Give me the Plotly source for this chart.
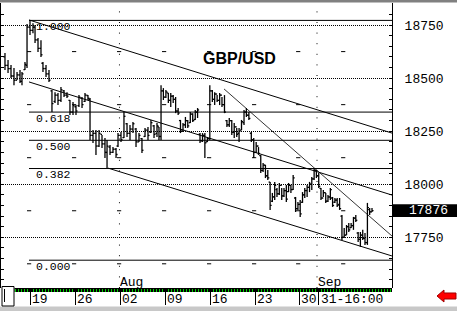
import plotly.graph_objects as go

# ---------------- data ----------------
# bar time, in trading days from Mon 19 Jul
BAR_T = [-2.78,-2.44,-2.11,-1.78,-1.44,-1.11,-0.89,-0.56,-0.33,0.00,0.33,0.56,0.89,1.22,1.44,1.78,2.11,2.44,2.78,3.11,
         3.44,3.78,4.11,4.44,4.78,5.11,5.44,5.78,6.11,6.44,6.67,7.00,7.33,7.67,8.00,8.33,8.56,8.89,9.22,9.56,
         9.78,10.11,10.44,10.78,11.11,11.44,11.78,12.11,12.44,12.78,13.11,13.44,13.78,14.11,14.33,14.56,14.82,15.10,15.37,15.64,
         15.91,16.18,16.46,16.72,17.00,17.27,17.53,17.81,18.08,18.36,18.62,18.89,19.17,19.43,19.71,19.98,20.26,20.52,20.79,21.07,
         21.33,21.61,21.88,22.14,22.42,22.69,22.97,23.23,23.50,23.78,24.04,24.32,24.59,24.86,25.13,25.39,25.64,25.90,26.16,26.42,
         26.68,26.93,27.19,27.44,27.70,27.97,28.22,28.48,28.73,28.99,29.24,29.51,29.77,30.02,30.28,30.53,30.79,31.06,31.31,31.57,
         31.82,32.08,32.33,32.59,32.86,33.11,33.37,33.62,33.88,34.13,34.40,34.66,34.91,35.17,35.42,35.68,35.94,36.20,36.46,36.71,
         36.97,37.22,37.49,37.74,38.00]
OPEN = [18600,18560,18545,18510,18490,18515,18485,18540,18560,18740,18725,18740,18680,18640,18570,18545,18520,18440,18390,18420,
        18395,18440,18420,18395,18340,18365,18370,18405,18390,18418,18400,18230,18240,18180,18235,18190,18150,18175,18150,18165,
        18180,18230,18220,18285,18240,18260,18260,18200,18215,18225,18255,18245,18275,18240,18270,18225,18440,18410,18430,18395,
        18415,18400,18345,18300,18250,18280,18300,18290,18330,18305,18340,18235,18205,18230,18200,18215,18440,18400,18425,18395,
        18420,18375,18300,18280,18300,18245,18270,18240,18255,18290,18340,18325,18240,18210,18150,18180,18135,18065,18090,18040,
        18010,17920,17940,17975,17955,17995,17945,17970,17965,17995,17975,17935,17885,17905,17915,17950,17970,17985,18000,18025,
        18065,18040,17980,17935,17960,17920,17940,17935,17915,17925,17905,17850,17750,17760,17800,17795,17805,17840,17770,17740,
        17760,17745,17725,17880,17870]
HIGH = [18618,18585,18562,18548,18529,18538,18529,18576,18755,18772,18759,18750,18689,18679,18576,18562,18538,18444,18434,18430,
        18458,18444,18434,18397,18387,18373,18420,18411,18430,18420,18406,18255,18255,18255,18232,18218,18208,18185,18175,18171,
        18241,18246,18340,18288,18279,18293,18265,18241,18218,18265,18270,18303,18279,18288,18270,18467,18453,18444,18430,18430,
        18420,18411,18359,18303,18288,18317,18303,18340,18335,18350,18359,18241,18241,18241,18222,18467,18444,18434,18420,18430,
        18411,18420,18303,18312,18303,18288,18265,18265,18303,18350,18359,18340,18246,18218,18199,18175,18138,18100,18091,18067,
        18011,17959,18011,17982,18006,17982,17982,17996,18006,17996,18044,17940,17916,17926,17963,17982,17996,18011,18034,18077,
        18067,18053,17982,17973,17959,17949,17982,17940,17935,17935,17935,17855,17794,17808,17817,17817,17846,17855,17775,17775,
        17785,17770,17912,17888,17888]
LOW = [18538,18524,18500,18467,18491,18477,18467,18538,18548,18703,18712,18665,18623,18599,18529,18505,18482,18340,18383,18373,
       18387,18411,18406,18326,18326,18326,18364,18359,18387,18397,18208,18194,18138,18175,18171,18124,18077,18138,18147,18124,
       18175,18199,18218,18222,18208,18241,18175,18199,18147,18222,18208,18241,18218,18222,18208,18208,18397,18406,18383,18364,
       18383,18335,18326,18241,18246,18265,18265,18288,18293,18303,18312,18194,18199,18124,18199,18208,18387,18373,18387,18373,
       18364,18335,18270,18270,18232,18218,18222,18199,18255,18279,18317,18303,18199,18124,18147,18138,18053,18058,18029,18020,
       17879,17916,17926,17940,17949,17926,17940,17916,17963,17959,17973,17869,17879,17846,17912,17935,17940,17963,17973,18020,
       18029,17982,17926,17940,17912,17916,17926,17893,17912,17893,17879,17737,17747,17761,17775,17794,17785,17822,17728,17705,
       17737,17714,17714,17855,17869]
CLOSE = [18560,18545,18510,18490,18515,18485,18520,18565,18740,18725,18740,18680,18640,18610,18545,18520,18490,18380,18420,18395,
         18445,18420,18415,18340,18370,18345,18410,18375,18420,18405,18230,18240,18180,18240,18190,18150,18180,18150,18165,18140,
         18230,18210,18320,18240,18260,18285,18200,18230,18160,18255,18230,18290,18235,18275,18225,18440,18410,18435,18395,18415,
         18400,18345,18335,18250,18280,18300,18275,18330,18300,18340,18350,18205,18230,18195,18215,18440,18400,18425,18395,18420,
         18375,18340,18280,18300,18245,18270,18235,18250,18295,18340,18325,18310,18210,18150,18180,18145,18065,18090,18040,18030,
         17900,17940,17995,17955,17995,17945,17970,17930,17995,17975,18030,17885,17905,17860,17950,17970,17985,18000,18025,18065,
         18040,17990,17935,17960,17920,17940,17975,17900,17925,17900,17885,17750,17760,17800,17785,17805,17840,17830,17740,17760,
         17745,17725,17890,17870,17876]

LAST_PRICE = 17876

DATE_LABELS = ["19", "26", "02", "09", "16", "23", "30", "31-16:00"]
DATE_TICKS = [0, 5, 10, 15, 20, 25, 29.9, 32.11]
MONTH_LABELS = ["Aug", "Sep"]
MONTH_TICKS = [9.94, 31.89]
WEEK_MARKS = [-0.1, 4.9, 9.9, 14.9, 19.9, 24.9, 29.8, 34.8]
MID_LEVELS = [18625, 18375, 18125, 17875, 17625]

FIB_LABELS = ["1.000", "0.618", "0.500", "0.382", "0.000"]
FIB_LEVELS = [18772, 18340, 18207, 18074, 17642]
FIB_START = -0.11

# trend lines: (x0, y0, x1, y1)
TREND_X0 = [-0.11, -0.11, 8.67]
TREND_Y0 = [18774, 18482, 18076]
TREND_X1 = [40.22, 40.22, 40.22]
TREND_Y1 = [18241, 17949, 17662]
STEEP_X = [21.56, 40.22]
STEEP_Y = [18449, 17756]

X_RANGE = [-3.222, 40.222]
Y_RANGE = [17511, 18854]

# ---------------- layout helpers ----------------
W, H = 457, 311
LM, RM, TM, BM = 1, 65, 3, 23
PW, PH = W - LM - RM, H - TM - BM
TICK = 0.17   # open/close tick length, in days


def xp(px):
    return (px - LM) / PW


def yp(py):
    return (H - BM - py) / PH


MONO = "Liberation Mono"

fig = go.Figure()

# fibonacci lines
fx, fy = [], []
for lv in FIB_LEVELS:
    fx += [FIB_START, X_RANGE[1], None]
    fy += [lv, lv, None]
fig.add_trace(go.Scatter(x=fx, y=fy, mode="lines", line=dict(color="black", width=1),
                         hoverinfo="skip", showlegend=False))

# channel lines
tx, ty = [], []
for a, b, c, d in zip(TREND_X0, TREND_Y0, TREND_X1, TREND_Y1):
    tx += [a, c, None]
    ty += [b, d, None]
fig.add_trace(go.Scatter(x=tx, y=ty, mode="lines", line=dict(color="black", width=1),
                         hoverinfo="skip", showlegend=False))
fig.add_trace(go.Scatter(x=STEEP_X, y=STEEP_Y, mode="lines", line=dict(color="black", width=0.8),
                         hoverinfo="skip", showlegend=False))

# small grid marks
mx, my = [], []
for lv in MID_LEVELS:
    for w in WEEK_MARKS:
        mx.append(w)
        my.append(lv)
fig.add_trace(go.Scatter(x=mx, y=my, mode="markers",
                         marker=dict(symbol="line-ew", size=3, line=dict(width=1, color="black")),
                         hoverinfo="skip", showlegend=False))

# OHLC bars drawn as one path through the axes
bx, by = [], []
for x, o, h, l, c in zip(BAR_T, OPEN, HIGH, LOW, CLOSE):
    bx += [x, x, None, x - TICK, x, None, x, x + TICK, None]
    by += [l, h, None, o, o, None, c, c, None]
fig.add_trace(go.Scatter(x=bx, y=by, mode="lines", line=dict(color="black", width=1.3),
                         hoverinfo="skip", showlegend=False))

shapes = []
# month dotted lines
for m in MONTH_TICKS:
    shapes.append(dict(type="line", xref="x", yref="paper", x0=m, x1=m, y0=0, y1=1,
                       line=dict(color="black", width=1, dash="1px,9.6px")))
# top dark strip
shapes.append(dict(type="rect", xref="paper", yref="paper", x0=xp(0), x1=xp(W), y0=yp(2.5), y1=yp(0),
                   fillcolor="#808080", line=dict(width=0)))
# bottom light strip
shapes.append(dict(type="rect", xref="paper", yref="paper", x0=xp(0), x1=xp(W), y0=yp(H), y1=yp(306.5),
                   fillcolor="#c8c8c8", line=dict(width=0)))
# black time strip
shapes.append(dict(type="rect", xref="paper", yref="paper", x0=xp(14.5), x1=xp(392), y0=yp(292), y1=yp(288),
                   fillcolor="black", line=dict(width=0), layer="below"))
# scroll box bottom-left
shapes.append(dict(type="rect", xref="paper", yref="paper", x0=xp(2), x1=xp(14), y0=yp(306), y1=yp(286.5),
                   fillcolor="white", line=dict(color="black", width=1)))
shapes.append(dict(type="line", xref="paper", yref="paper", x0=xp(4.5), x1=xp(4.5), y0=yp(302), y1=yp(289),
                   line=dict(color="black", width=1)))
# last price box
shapes.append(dict(type="rect", xref="paper", yref="y", x0=xp(393), x1=xp(W), y0=LAST_PRICE - 31, y1=LAST_PRICE + 30,
                   fillcolor="black", line=dict(width=0)))
# red arrow
pts = [(437, 296), (444, 290), (444, 293), (456, 293), (456, 299), (444, 299), (444, 302)]
path = "M " + " L ".join(f"{xp(a):.5f},{yp(b):.5f}" for a, b in pts) + " Z"
shapes.append(dict(type="path", xref="paper", yref="paper", path=path,
                   fillcolor="#ff0000", line=dict(color="#a00000", width=1)))

ann = []
for lab, pos in zip(DATE_LABELS, DATE_TICKS):
    ann.append(dict(x=pos, xref="x", y=yp(299.5), yref="paper", text=lab, showarrow=False,
                    xanchor="left", yanchor="middle", xshift=0, font=dict(family=MONO, size=13, color="black")))
for lab, pos in zip(MONTH_LABELS, MONTH_TICKS):
    ann.append(dict(x=pos, xref="x", y=yp(282.5), yref="paper", text=lab, showarrow=False,
                    xanchor="left", yanchor="middle", xshift=-1, font=dict(family=MONO, size=13, color="black")))
for lab, lv in zip(FIB_LABELS, FIB_LEVELS):
    ann.append(dict(x=FIB_START, xref="x", y=lv, yref="y", text=lab, showarrow=False,
                    xanchor="left", yanchor="middle", xshift=5, yshift=-6,
                    font=dict(family=MONO, size=11.5, color="black")))
ann.append(dict(x=xp(239.5), xref="paper", y=yp(58.5), yref="paper", text="<b>GBP/USD</b>", showarrow=False,
                xanchor="center", yanchor="middle", font=dict(family="Liberation Sans", size=16, color="black")))
ann.append(dict(x=xp(450), xref="paper", y=LAST_PRICE, yref="y", text=str(LAST_PRICE), showarrow=False,
                xanchor="right", yanchor="middle", font=dict(family=MONO, size=13, color="white")))

fig.update_layout(
    width=W, height=H, margin=dict(l=LM, r=RM, t=TM, b=BM),
    paper_bgcolor="white", plot_bgcolor="white",
    shapes=shapes, annotations=ann, showlegend=False, hovermode=False,
    xaxis=dict(range=X_RANGE, showgrid=False, zeroline=False, showline=False,
               tickmode="array", tickvals=DATE_TICKS, ticks="outside", ticklen=16, tickcolor="black",
               tickwidth=1, showticklabels=False,
               minor=dict(tickmode="linear", tick0=0, dtick=1 / 3, ticks="outside", ticklen=3,
                          tickcolor="#00d000", tickwidth=1),
               fixedrange=True),
    yaxis=dict(range=Y_RANGE, side="right", showline=True, linecolor="black", linewidth=1,
               mirror="ticks", zeroline=False,
               tick0=17750, dtick=250, ticks="inside", ticklen=3, tickcolor="black",
               showgrid=True, gridcolor="black", gridwidth=1, griddash="1px,1px",
               minor=dict(tick0=17750, dtick=50, ticks="inside", ticklen=3, tickcolor="black", showgrid=False),
               tickformat="d", ticklabelstandoff=9,
               tickfont=dict(family=MONO, size=13, color="black"), fixedrange=True),
)

fig.write_html("out.html")
